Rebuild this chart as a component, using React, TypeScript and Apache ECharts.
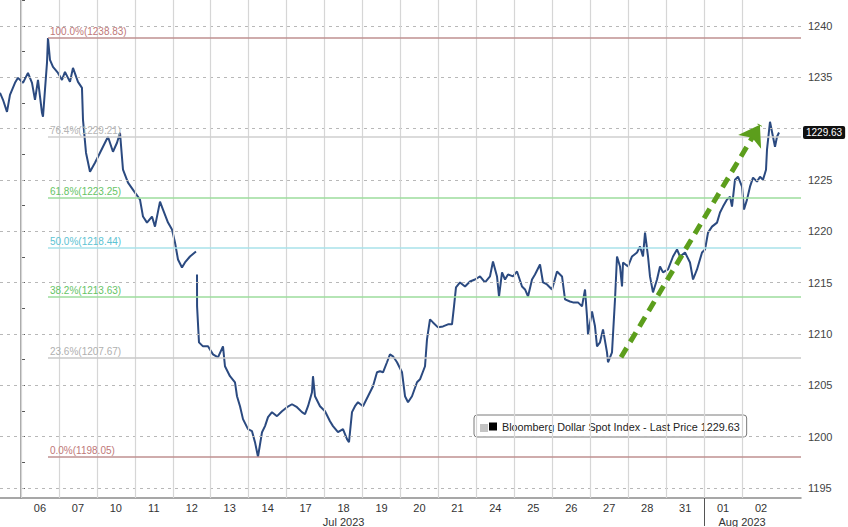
import React, { useEffect, useRef } from "react";
import * as echarts from "echarts";

// ---- data ----
const dayLabels = ["06", "07", "10", "11", "12", "13", "14", "17", "18", "19", "20", "21", "24", "25", "26", "27", "28", "31", "01", "02"];
const monthLabels = ["Jul 2023", "Aug 2023"];
const monthLabelAt = [8.5, 19];
const monthDividerAt = [18];
const yGridValues = [1195, 1200, 1205, 1210, 1215, 1220, 1225, 1230, 1235, 1240];
const yTickLabels = [1195, 1200, 1205, 1210, 1215, 1220, 1225, 1235, 1240];
const yTickMarks = [1195, 1197.5, 1200, 1202.5, 1205, 1207.5, 1210, 1212.5, 1215, 1217.5, 1220, 1222.5, 1225, 1227.5, 1230, 1232.5, 1235, 1237.5, 1240, 1242.5];
const seriesName = "Bloomberg Dollar Spot Index";
const lastPrice = 1229.63;
const fibPct = ["100.0%", "76.4%", "61.8%", "50.0%", "38.2%", "23.6%", "0.0%"];
const fibValues = [1238.83, 1229.21, 1223.25, 1218.44, 1213.63, 1207.67, 1198.05];
const fibStartX = 0.711;
const trendStart = [15.81, 1207.73];
const trendEnd = [19.47, 1230.38];

// x = trading-day index (day band i spans [i, i+1]), y = index level
const prices: [number, number | string][] = [
  [-0.553, 1233.49], [-0.474, 1232.81], [-0.369, 1231.64], [-0.29, 1233.29], [-0.158, 1234.46], [-0.079, 1234.95],
  [0.053, 1234.46], [0.184, 1235.43], [0.29, 1234.46], [0.369, 1232.81], [0.448, 1234.75], [0.553, 1231.54],
  [0.58, 1231.16], [0.632, 1233.78], [0.685, 1236.4], [0.711, 1238.83], [0.764, 1236.7], [0.843, 1236.02],
  [0.975, 1235.43], [1.08, 1234.75], [1.159, 1235.53], [1.291, 1234.56], [1.37, 1235.92], [1.502, 1234.56],
  [1.607, 1233.97], [1.634, 1230.86], [1.713, 1227.66], [1.818, 1225.81], [1.95, 1226.68], [2.082, 1227.66],
  [2.213, 1228.63], [2.292, 1229.21], [2.424, 1227.75], [2.53, 1228.63], [2.609, 1229.6], [2.688, 1226.0],
  [2.82, 1224.74], [3.004, 1223.77], [3.136, 1223.09], [3.215, 1221.44], [3.32, 1220.85], [3.452, 1221.44],
  [3.531, 1220.46], [3.663, 1222.89], [3.742, 1222.12], [3.874, 1220.85], [3.979, 1220.17], [4.058, 1218.91],
  [4.137, 1217.26], [4.242, 1216.48], [4.321, 1216.97], [4.453, 1217.55], [4.611, 1218.04], [4.625, "-"],
  [4.638, 1215.8], [4.64, 1212.69], [4.69, 1209.19], [4.796, 1208.8], [4.928, 1208.8], [5.059, 1208.02],
  [5.191, 1207.73], [5.323, 1208.8], [5.375, 1206.86], [5.507, 1205.89], [5.639, 1205.3], [5.692, 1203.94],
  [5.771, 1202.97], [5.85, 1201.71], [5.982, 1200.74], [6.087, 1200.54], [6.166, 1199.47], [6.245, 1198.05],
  [6.351, 1200.44], [6.43, 1201.03], [6.509, 1201.9], [6.614, 1202.39], [6.746, 1202.0], [6.877, 1202.48],
  [7.009, 1202.87], [7.141, 1203.16], [7.273, 1202.87], [7.404, 1202.39], [7.484, 1202.19], [7.563, 1202.97],
  [7.668, 1204.33], [7.694, 1205.89], [7.747, 1203.94], [7.879, 1202.97], [8.011, 1202.48], [8.142, 1201.51],
  [8.221, 1201.03], [8.353, 1200.44], [8.485, 1200.74], [8.59, 1199.76], [8.643, 1199.47], [8.722, 1202.39],
  [8.801, 1202.97], [8.88, 1203.36], [9.012, 1202.97], [9.144, 1203.94], [9.275, 1204.91], [9.381, 1206.27],
  [9.46, 1206.37], [9.539, 1206.27], [9.644, 1207.25], [9.723, 1208.02], [9.802, 1207.83], [9.908, 1207.25],
  [10.04, 1206.27], [10.119, 1203.94], [10.198, 1203.36], [10.303, 1203.94], [10.435, 1205.3], [10.514, 1205.59],
  [10.646, 1206.86], [10.698, 1209.48], [10.777, 1211.43], [10.856, 1211.13], [10.988, 1210.65], [11.12, 1210.74],
  [11.252, 1210.94], [11.357, 1210.94], [11.41, 1212.69], [11.462, 1214.54], [11.568, 1215.02], [11.7, 1214.63],
  [11.831, 1215.12], [11.963, 1215.31], [12.095, 1215.61], [12.227, 1215.02], [12.358, 1215.61], [12.437, 1217.06],
  [12.543, 1215.61], [12.596, 1213.66], [12.675, 1216.0], [12.754, 1215.31], [12.833, 1215.8], [12.964, 1215.61],
  [13.07, 1216.09], [13.202, 1214.63], [13.281, 1214.34], [13.36, 1213.66], [13.465, 1215.31], [13.544, 1215.8],
  [13.676, 1216.77], [13.755, 1215.02], [13.86, 1214.83], [13.992, 1214.34], [14.124, 1216.09], [14.256, 1215.61],
  [14.335, 1213.37], [14.466, 1213.17], [14.545, 1213.08], [14.677, 1213.08], [14.783, 1212.69], [14.862, 1214.34],
  [14.914, 1211.72], [14.941, 1209.97], [15.046, 1212.2], [15.125, 1210.75], [15.178, 1208.8], [15.257, 1209.19],
  [15.336, 1210.45], [15.441, 1208.22], [15.468, 1207.25], [15.573, 1208.22], [15.652, 1213.37], [15.705, 1217.55],
  [15.784, 1216.58], [15.837, 1214.63], [15.863, 1216.97], [15.995, 1216.58], [16.1, 1217.55], [16.232, 1217.94],
  [16.311, 1218.52], [16.39, 1217.55], [16.443, 1219.88], [16.522, 1217.55], [16.574, 1215.61], [16.653, 1214.05],
  [16.759, 1215.31], [16.838, 1216.58], [16.917, 1216.0], [17.049, 1216.29], [17.181, 1217.55], [17.286, 1218.23],
  [17.365, 1217.55], [17.497, 1217.94], [17.628, 1216.97], [17.708, 1215.31], [17.813, 1216.29], [17.945, 1217.94],
  [18.024, 1218.23], [18.103, 1219.88], [18.208, 1220.46], [18.34, 1220.85], [18.419, 1221.83], [18.498, 1222.41],
  [18.603, 1223.09], [18.682, 1223.38], [18.735, 1222.41], [18.814, 1225.03], [18.893, 1225.32], [18.999, 1224.35],
  [19.051, 1222.12], [19.13, 1223.09], [19.209, 1224.35], [19.289, 1225.23], [19.394, 1224.84], [19.473, 1225.32],
  [19.552, 1225.03], [19.631, 1226.0], [19.657, 1227.95], [19.736, 1230.67], [19.815, 1229.21], [19.868, 1228.24],
  [19.921, 1229.21], [19.974, 1229.63],
];

// ---- styles ----
const fibLineColors = ["#bf9090", "#cfcfcf", "#9ddc9d", "#a9e2ea", "#9ddc9d", "#c9c9c9", "#bf9090"];
const fibTextColors = ["#c07878", "#b5b5b5", "#66c466", "#5cc3d3", "#66c466", "#b0b0b0", "#c07878"];
const FONT = "'Liberation Sans', Arial, sans-serif";

export default function App() {
  const ref = useRef<HTMLDivElement>(null);

  useEffect(() => {
    if (!ref.current) return;
    const chart = echarts.init(ref.current, undefined, { renderer: "svg" });
    const xMin = -0.553;
    const xMax = 20.553;

    const gridLineData: any[] = [
      ...yGridValues.map((v) => ({
        yAxis: v,
        lineStyle: { type: [3, 4], color: "#b8b8b8", width: 1 },
      })),
      ...dayLabels.map((_, i) => ({
        xAxis: i,
        lineStyle: { type: "solid", color: "#d6d6d6", width: 1.2 },
      })),
    ];

    const fibData: any[] = fibValues.map((v, i) => [
      {
        coord: [fibStartX, v],
        lineStyle: { color: fibLineColors[i], width: 1.6, type: "solid" },
        label: {
          show: true,
          position: "insideStartTop",
          distance: [2, 1],
          formatter: `${fibPct[i]}(${v.toFixed(2)})`,
          color: fibTextColors[i],
          fontSize: 10,
          fontFamily: FONT,
        },
      },
      { coord: [xMax, v] },
    ]);

    const option: any = {
      animation: false,
      textStyle: { fontFamily: FONT },
      grid: { left: 0, right: 47, top: 0, bottom: 28, containLabel: false },
      legend: {
        show: true,
        left: 474,
        top: 415,
        orient: "horizontal",
        backgroundColor: "#ffffff",
        borderColor: "#7a7a7a",
        borderWidth: 1,
        borderRadius: 3,
        padding: [6, 7, 5, 15],
        itemWidth: 8,
        itemHeight: 8,
        itemGap: 5,
        selectedMode: false,
        data: [{ name: seriesName, icon: "rect", itemStyle: { color: "#000" } }],
        formatter: (name: string) => `${name} - Last Price ${lastPrice.toFixed(2)}`,
        textStyle: { fontSize: 10.8, color: "#222", fontFamily: FONT },
      },
      graphic: [
        {
          type: "rect",
          left: 480,
          top: 424,
          z: 100,
          shape: { width: 8, height: 8 },
          style: { fill: "#c4c4c4" },
        },
      ],
      xAxis: [
        {
          type: "value",
          min: xMin,
          max: xMax,
          position: "bottom",
          splitLine: { show: false },
          axisLine: { show: true, lineStyle: { color: "#8a8a8a", width: 1.5 } },
          axisTick: {
            show: true,
            customValues: monthDividerAt,
            length: 28,
            lineStyle: { color: "#555", width: 1 },
          },
          axisLabel: {
            show: true,
            customValues: dayLabels.map((_, i) => i + 0.5),
            formatter: (v: number) => dayLabels[Math.round(v - 0.5)] ?? "",
            margin: 4,
            fontSize: 11,
            color: "#333",
            fontFamily: FONT,
          },
        },
        {
          type: "value",
          min: xMin,
          max: xMax,
          position: "bottom",
          offset: 14,
          splitLine: { show: false },
          axisLine: { show: false },
          axisTick: { show: false },
          axisLabel: {
            show: true,
            customValues: monthLabelAt,
            formatter: (v: number) => monthLabels[monthLabelAt.indexOf(v)] ?? "",
            margin: 4,
            fontSize: 11,
            color: "#333",
            fontFamily: FONT,
          },
        },
      ],
      yAxis: {
        type: "value",
        position: "right",
        min: 1194.03,
        max: 1242.53,
        splitLine: { show: false },
        axisLine: { show: true, lineStyle: { color: "#8a8a8a", width: 1.5 } },
        axisTick: {
          show: true,
          customValues: yTickMarks,
          length: 4,
          lineStyle: { color: "#555" },
        },
        axisLabel: {
          show: true,
          customValues: yTickLabels,
          formatter: (v: number) => String(v),
          margin: 7,
          fontSize: 11,
          color: "#444",
          fontFamily: FONT,
        },
      },
      series: [
        {
          type: "line",
          data: [],
          z: 1,
          silent: true,
          markLine: {
            silent: true,
            symbol: "none",
            animation: false,
            label: { show: false },
            data: gridLineData,
          },
        },
        {
          type: "line",
          data: [],
          z: 2,
          silent: true,
          markLine: {
            silent: true,
            symbol: "none",
            animation: false,
            data: fibData,
          },
        },
        {
          name: seriesName,
          type: "line",
          data: prices,
          z: 3,
          showSymbol: false,
          connectNulls: false,
          color: "#000",
          lineStyle: { color: "#2b4a80", width: 2 },
          markLine: {
            silent: true,
            symbol: "none",
            animation: false,
            data: [
              {
                yAxis: lastPrice,
                lineStyle: { color: "rgba(0,0,0,0)", width: 0 },
                label: {
                  show: true,
                  position: "end",
                  distance: 2,
                  formatter: lastPrice.toFixed(2),
                  backgroundColor: "#111",
                  color: "#fff",
                  padding: [2, 3, 1, 3],
                  borderRadius: 2,
                  fontSize: 10,
                  fontFamily: FONT,
                },
              },
            ],
          },
        },
        {
          type: "line",
          data: [],
          z: 4,
          silent: true,
          markLine: {
            silent: true,
            animation: false,
            symbol: ["none", "arrow"],
            symbolSize: 20,
            label: { show: false },
            itemStyle: { color: "#5c9e1c" },
            lineStyle: { color: "#5c9e1c", width: 5, type: [11, 7], cap: "butt" },
            data: [[{ coord: trendStart }, { coord: trendEnd }]],
          },
        },
      ],
    };

    chart.setOption(option);
    return () => chart.dispose();
  }, []);

  return (
    <div
      ref={ref}
      style={{ position: "fixed", left: 0, top: 0, width: 848, height: 527, background: "#fff" }}
    />
  );
}
